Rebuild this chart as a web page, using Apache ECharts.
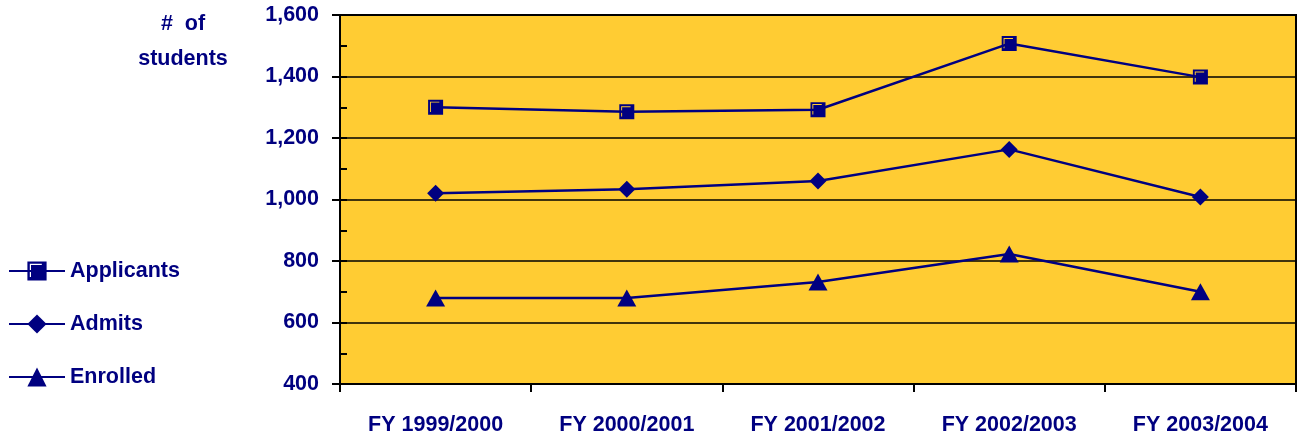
<!DOCTYPE html>
<html>
<head>
<meta charset="utf-8">
<script src="https://cdn.jsdelivr.net/npm/echarts@6/dist/echarts.min.js"></script>
<style>html,body{margin:0;padding:0;background:#fff}#c{width:1298px;height:437px}</style>
</head>
<body>
<div id="c"></div>
<script>
const categories = ['FY 1999/2000', 'FY 2000/2001', 'FY 2001/2002', 'FY 2002/2003', 'FY 2003/2004'];
const applicants = [1300, 1285, 1292, 1507, 1398];
const admits = [1020, 1033, 1060, 1163, 1008];
const enrolled = [680, 680, 732, 823, 700];
const yTicks = [400, 600, 800, 1000, 1200, 1400, 1600];

const NAVY = '#000080';
const FONT = '"Liberation Sans Narrow", "Liberation Sans", Arial, sans-serif';
const FS = 21.5;
const SQUARE = 'path://M0 0H16V16H0Z M2 2V13H3V3H12V2Z';

const chart = echarts.init(document.getElementById('c'), null, {renderer: 'canvas'});
const common = {
  type: 'line',
  lineStyle: {color: NAVY, width: 2.5},
  itemStyle: {color: NAVY},
  emphasis: {disabled: true},
  animation: false
};
chart.setOption({
  animation: false,
  title: {
    text: '#  of\nstudents',
    left: 178, top: 2, textAlign: 'center',
    textStyle: {fontFamily: FONT, fontWeight: 'bold', fontSize: FS, color: NAVY, lineHeight: 35, align: 'center'}
  },
  legend: {
    orient: 'vertical', left: 3, top: 255,
    itemWidth: 56, itemHeight: 24, itemGap: 31,
    textStyle: {fontFamily: FONT, fontWeight: 'bold', fontSize: FS, color: NAVY},
    data: ['Applicants', 'Admits', 'Enrolled']
  },
  grid: {left: 340, top: 15, width: 956, height: 369, show: true, backgroundColor: '#FFCC33', borderColor: '#000', borderWidth: 2},
  xAxis: {
    type: 'category', data: categories, boundaryGap: true,
    axisLine: {lineStyle: {color: '#000', width: 2}},
    axisTick: {show: true, length: 8, lineStyle: {color: '#000', width: 2}},
    axisLabel: {interval: 0, fontFamily: FONT, fontWeight: 'bold', fontSize: FS, color: NAVY, margin: 30}
  },
  yAxis: [{
    type: 'value', min: yTicks[0], max: yTicks[yTicks.length-1], interval: 200,
    axisLine: {show: true, lineStyle: {color: '#000', width: 2}},
    axisTick: {show: true, length: 8, lineStyle: {color: '#000', width: 2}},
    splitLine: {show: true, lineStyle: {color: '#000', width: 1.5}},
    axisLabel: {fontFamily: FONT, fontWeight: 'bold', fontSize: FS, color: NAVY, margin: 21,
      formatter: v => v.toLocaleString('en-US')}
  }, {
    type: 'value', position: 'left', min: yTicks[0], max: yTicks[yTicks.length-1], interval: 100,
    axisLine: {show: false},
    axisTick: {show: true, inside: true, length: 7, lineStyle: {color: '#000', width: 2}},
    splitLine: {show: false},
    axisLabel: {show: false}
  }],
  series: [
    Object.assign({name: 'Applicants', data: applicants, symbol: SQUARE, symbolSize: 15}, common),
    Object.assign({name: 'Admits', data: admits, symbol: 'diamond', symbolSize: 17}, common),
    Object.assign({name: 'Enrolled', data: enrolled, symbol: 'triangle', symbolSize: [19, 17]}, common)
  ]
});
</script>
</body>
</html>
